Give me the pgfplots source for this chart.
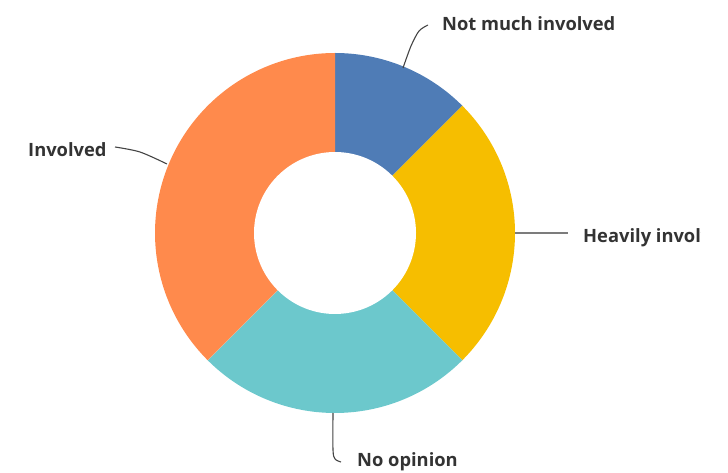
\documentclass[border=0pt]{standalone}
\usepackage{fontspec}
\setmainfont{Open Sans}
\usepackage{pgfplots}
\pgfplotsset{compat=1.18}
\definecolor{cBlue}{HTML}{4F7CB6}
\definecolor{cYellow}{HTML}{F6BE00}
\definecolor{cTeal}{HTML}{6CC8CC}
\definecolor{cOrange}{HTML}{FF8A4C}
\definecolor{cText}{HTML}{333333}
\definecolor{cLine}{HTML}{444444}
\begin{document}
\begin{tikzpicture}
\useasboundingbox (0,0) rectangle (728bp,473bp);
\clip (0,0) rectangle (728bp,473bp);
\begin{axis}[
  at={(0,0)}, anchor=south west,
  scale only axis, width=728bp, height=473bp,
  xmin=0, xmax=728, ymin=0, ymax=473,
  hide axis, clip=false,
]
% shares: Not much involved 12.5%, Heavily involved 25%, No opinion 25%, Involved 37.5%
\addplot[fill=cBlue, draw=none, domain=45:90, samples=40, variable=\t]
  ({335+180*cos(\t)}, {240+180*sin(\t)}) -- (axis cs:335,240) -- cycle;
\addplot[fill=cYellow, draw=none, domain=-45:45, samples=70, variable=\t]
  ({335+180*cos(\t)}, {240+180*sin(\t)}) -- (axis cs:335,240) -- cycle;
\addplot[fill=cTeal, draw=none, domain=-135:-45, samples=70, variable=\t]
  ({335+180*cos(\t)}, {240+180*sin(\t)}) -- (axis cs:335,240) -- cycle;
\addplot[fill=cOrange, draw=none, domain=-270:-135, samples=100, variable=\t]
  ({335+180*cos(\t)}, {240+180*sin(\t)}) -- (axis cs:335,240) -- cycle;
\addplot[fill=white, draw=none, domain=0:360, samples=120, variable=\t]
  ({335+81*cos(\t)}, {240+81*sin(\t)}) -- cycle;
% leader lines
\addplot[cLine, line width=1.1pt, smooth, no marks] coordinates {(428,448) (419,442) (411,427) (403,405)};
\addplot[cLine, line width=1.1pt, smooth, no marks] coordinates {(115,326) (140,321) (167,309)};
\addplot[cLine!70, line width=1.3pt, no marks] coordinates {(515,240) (568,240)};
\addplot[cLine, line width=1.1pt, smooth, no marks] coordinates {(333,60) (333,23) (335,14) (341,11)};
% labels
\node[anchor=west, inner sep=0pt, text=cText, font=\bfseries\fontsize{18.4}{21}\selectfont] at (axis cs:442,449) {Not much involved};
\node[anchor=west, inner sep=0pt, text=cText, font=\bfseries\fontsize{18.4}{21}\selectfont] at (axis cs:28,323) {Involved};
\node[anchor=west, inner sep=0pt, text=cText, font=\bfseries\fontsize{18.4}{21}\selectfont] at (axis cs:357,11) {No opinion};
\begin{scope}
\clip (axis cs:560,200) rectangle (axis cs:700,270);
\node[anchor=west, inner sep=0pt, text=cText, font=\bfseries\fontsize{18.4}{21}\selectfont] at (axis cs:583,235) {Heavily involved};
\end{scope}
\end{axis}
\end{tikzpicture}
\end{document}
